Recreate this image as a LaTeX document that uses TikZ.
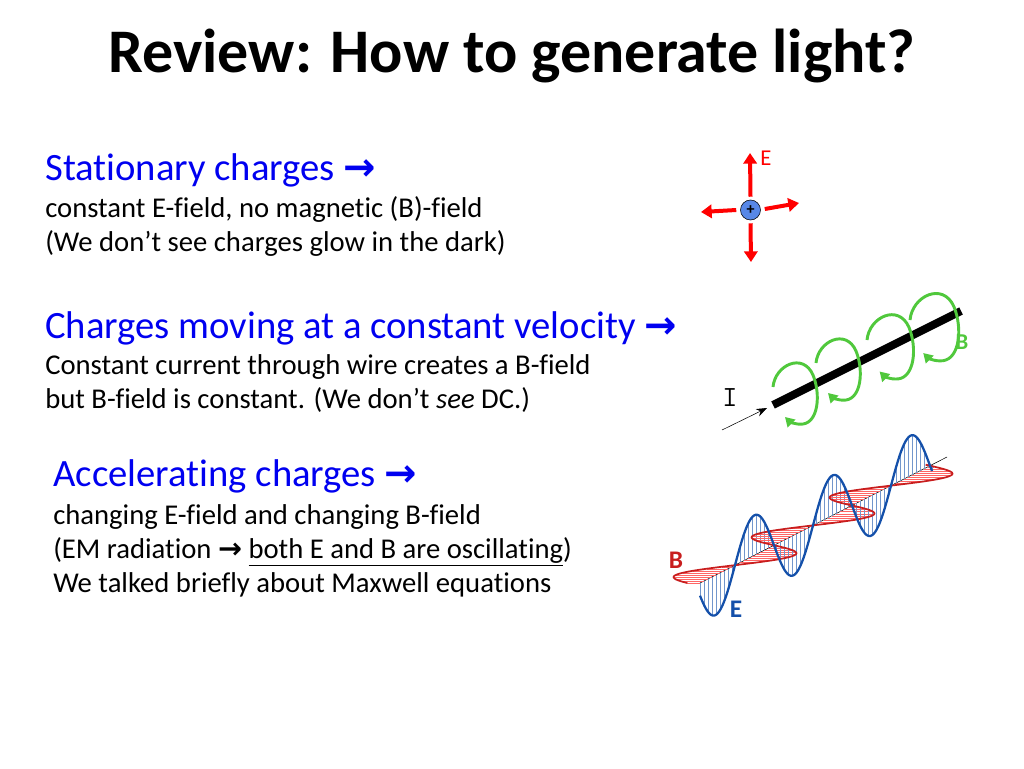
\documentclass[tikz,border=0pt]{standalone}
\usepackage{fontspec}
\setmainfont{Carlito}[Ligatures=CommonOff]
\newfontfamily\arrowfont{DejaVu Sans}
\usetikzlibrary{arrows.meta}
\definecolor{hblue}{RGB}{0,0,240}
\definecolor{wgreen}{RGB}{80,200,60}
\definecolor{dblue}{RGB}{20,80,170}
\definecolor{lblue}{RGB}{110,170,225}
\definecolor{bred}{RGB}{200,30,30}
\newcommand{\rarr}{{\arrowfont\bfseries →}}
\tikzset{
  head/.style={anchor=base west,inner sep=0pt,text=hblue,font=\fontsize{29}{34}\selectfont},
  body/.style={anchor=base west,inner sep=0pt,font=\fontsize{21.5}{26}\selectfont},
  earrow/.style={red,line width=3pt,-{Triangle[length=8pt,width=10pt]}},
  loop/.style={wgreen,line width=2.2pt,-{Triangle[length=7pt,width=8pt]}},
}
\begin{document}
\begin{tikzpicture}[x=0.75pt,y=-0.75pt]
\useasboundingbox (0,0) rectangle (1024,768);
\node[anchor=base,inner sep=0pt,font=\bfseries\fontsize{46.5}{52}\selectfont] (title) at (512,72) {Review: How to generate light?};

\node[head] (h1) at (45,180) {Stationary charges \rarr};
\node[body] (b11) at (45,217) {constant E-field, no magnetic (B)-field};
\node[body] (b12) at (45,251) {(We don’t see charges glow in the dark)};

\node[head] (h2) at (45,338) {Charges moving at a constant velocity \rarr};
\node[body] (b21) at (45,374) {Constant current through wire creates a B-field};
\node[body] (b22) at (45,408) {but B-field is constant. (We don’t \textit{see} DC.)};

\node[head] (h3) at (53,486) {Accelerating charges \rarr};
\node[body] (b31) at (53,524) {changing E-field and changing B-field};
\node[body] (b32) at (53,558) {(EM radiation \rarr\ \underline{both E and B are oscillating})};
\node[body] (b33) at (53,592) {We talked briefly about Maxwell equations};

% stationary charge
\node[circle,draw=black,fill=lblue!80!blue,minimum size=15pt,inner sep=0pt,font=\bfseries\large] (q) at (750.5,210) {+};
\coordinate (eu) at (750,153); \coordinate (ed) at (751,262);
\coordinate (el) at (701,212); \coordinate (er) at (799,203);
\draw[earrow] (q.north)++(0,-3) -- (eu);
\draw[earrow] (q.south)++(0,3) -- (ed);
\draw[earrow] (q.west)++(-4,0) -- (el);
\draw[earrow] (q.east)++(4,-1) -- (er);
\node[text=red,font=\fontsize{17}{20}\selectfont] (elab) at (766,158) {E};

% wire
\coordinate (w1) at (773,405); \coordinate (w2) at (961,311);
\draw[line width=6pt] (w1) -- (w2);
\coordinate (i0) at (722,430);
\draw[-{Stealth[length=8pt]},thin] (i0) -- (767,408);
\node[font=\ttfamily\fontsize{22}{24}\selectfont] (ilab) at (730,398) {I};
\foreach \x/\y/\s in {773/387/1, 816/363/1, 867/340/1.05, 910/320/1.1}{
  \begin{scope}[shift={(\x,\y)},scale=\s]
  \draw[loop] (0,0) .. controls (2,-22) and (30,-35) .. (40,-12)
     .. controls (48,8) and (45,35) .. (30,37)
     .. controls (22,38) and (16,34) .. (12,30);
  \end{scope}
}
\node[text=wgreen,font=\bfseries\fontsize{17}{20}\selectfont] (blab) at (962,342) {B};

% EM wave
\coordinate (a1) at (700,583); \coordinate (a2) at (947,457);
\draw[thin] (a1) -- (a2);
% hatching
\foreach \u in {0,4,...,232}{
  \pgfmathsetmacro{\s}{sin(4.615*(\u-35))}
  \pgfmathsetmacro{\ay}{583-0.51*\u}
  \draw[dblue!60,very thin] (700+\u,\ay) -- ++(0,-40*\s);
  \draw[red!60,very thin] (700+\u,\ay) -- ++(40*\s,0);
}
\draw[bred,line width=1.3pt,domain=0:232,samples=160,smooth] plot ({700+\x+40*sin(4.615*(\x-35))},{583-0.51*\x});
\draw[dblue,line width=1.7pt,domain=0:232,samples=160,smooth] plot ({700+\x},{583-0.51*\x-40*sin(4.615*(\x-35))});
\node[text=bred,font=\bfseries\fontsize{19}{22}\selectfont] (bl) at (676,560) {B};
\node[text=dblue,font=\bfseries\fontsize{19}{22}\selectfont] (el2) at (736,609) {E};
\end{tikzpicture}
\end{document}
